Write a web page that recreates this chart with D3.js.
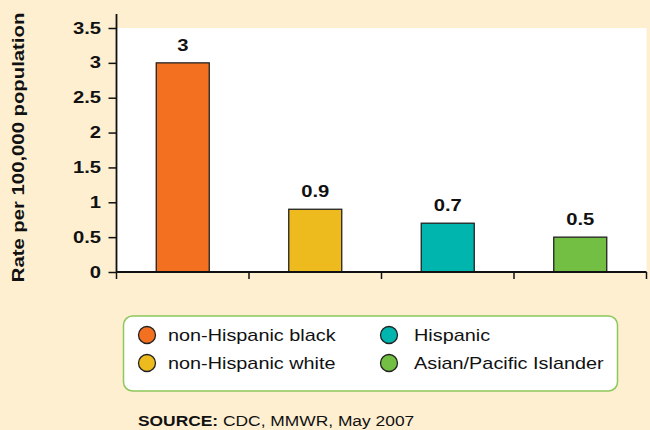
<!DOCTYPE html>
<html>
<head>
<meta charset="utf-8">
<script src="https://cdn.jsdelivr.net/npm/d3@7"></script>
<style>
  html, body { margin: 0; padding: 0; background: #FEEFD1; }
  svg { display: block; }
  text { font-family: "Liberation Sans", Arial, Helvetica, sans-serif; fill: #111; }
</style>
</head>
<body>
<svg id="chart" width="650" height="430"></svg>
<script>
// Death rates by race/ethnicity
const categories = ["non-Hispanic black", "non-Hispanic white", "Hispanic", "Asian/Pacific Islander"];
const values = [3, 0.9, 0.7, 0.5];
const valueLabels = ["3", "0.9", "0.7", "0.5"];
const colors = ["#F37021", "#EDBB1E", "#00B5AD", "#73BF44"];
const yTicks = [0, 0.5, 1, 1.5, 2, 2.5, 3, 3.5];
const yTickLabels = ["0", "0.5", "1", "1.5", "2", "2.5", "3", "3.5"];
const yTitle = "Rate per 100,000 population";

const svg = d3.select("#chart");
const plotLeft = 116.5, plotRight = 646.5, plotTop = 28, plotBottom = 272;

// the typeface is set wide: stretch glyphs horizontally
const WIDE_BOLD = 1.28, WIDE_TITLE = 1.27, WIDE_REG = 1.24, WIDE_SRC = 1.2;

function wideText(parent, x, y, str, size, weight, sx, anchor) {
  return parent.append("text")
    .attr("transform", `translate(${x},${y}) scale(${sx},1)`)
    .attr("text-anchor", anchor || "start")
    .style("font-size", size + "px").style("font-weight", weight || "normal")
    .text(str);
}

const x = d3.scaleBand().domain(categories).range([plotLeft, plotRight]).paddingInner(0.6).paddingOuter(0.3);
const y = d3.scaleLinear().domain([0, 3.5]).range([plotBottom, plotTop]);

// plot area
svg.append("rect").attr("x", plotLeft).attr("y", plotTop)
  .attr("width", plotRight - plotLeft).attr("height", plotBottom - plotTop).attr("fill", "#fff");

// bars
svg.selectAll("rect.bar").data(values).enter().append("rect")
  .attr("class", "bar")
  .attr("x", (d, i) => x(categories[i]))
  .attr("y", d => y(d))
  .attr("width", x.bandwidth())
  .attr("height", d => y(0) - y(d))
  .attr("fill", (d, i) => colors[i])
  .attr("stroke", "#222").attr("stroke-width", 1.3);

// value labels
values.forEach((v, i) => {
  wideText(svg, x(categories[i]) + x.bandwidth() / 2, y(v) - 12, valueLabels[i], 15.8, "bold", WIDE_BOLD, "middle");
});

// y axis
const labelGap = 15.5;
const yAxis = d3.axisLeft(y).tickValues(yTicks)
  .tickFormat((d, i) => yTickLabels[i]).tickSize(8).tickPadding(7);
const gy = svg.append("g").attr("transform", `translate(${plotLeft},0)`).call(yAxis);
gy.select(".domain").remove();
gy.selectAll(".tick line").attr("stroke", "#111").attr("stroke-width", 1.5);
gy.selectAll(".tick text")
  .attr("x", -labelGap / WIDE_BOLD)
  .attr("transform", `scale(${WIDE_BOLD},1)`)
  .style("font-size", "15.8px").style("font-weight", "bold")
  .style("font-family", "Liberation Sans, Arial, sans-serif").attr("fill", "#111");
svg.append("line").attr("x1", plotLeft).attr("x2", plotLeft).attr("y1", 14).attr("y2", plotBottom + 0.5)
  .attr("stroke", "#111").attr("stroke-width", 1.8);

// x axis: ticks at band boundaries
const xBounds = d3.range(categories.length + 1).map(i => plotLeft + i * (plotRight - plotLeft) / categories.length);
svg.append("line").attr("x1", plotLeft).attr("x2", plotRight).attr("y1", plotBottom).attr("y2", plotBottom)
  .attr("stroke", "#111").attr("stroke-width", 1.8);
svg.selectAll("line.xt").data(xBounds).enter().append("line")
  .attr("class", "xt")
  .attr("x1", d => d).attr("x2", d => d)
  .attr("y1", plotBottom).attr("y2", plotBottom + 7)
  .attr("stroke", "#111").attr("stroke-width", 1.5);

// y axis title
svg.append("text")
  .attr("transform", `translate(23.5,${(12 + 283) / 2}) rotate(-90) scale(${WIDE_TITLE},1)`)
  .attr("text-anchor", "middle")
  .style("font-size", "16px").style("font-weight", "bold")
  .text(yTitle);

// legend
const lg = svg.append("g");
lg.append("rect").attr("x", 123.5).attr("y", 316).attr("width", 494).attr("height", 75)
  .attr("rx", 9).attr("fill", "#fff").attr("stroke", "#8CC85A").attr("stroke-width", 1.5);
const legendPos = [[147, 335], [147, 363], [389, 335], [389, 363]];
categories.forEach((name, i) => {
  const [cx, cy] = legendPos[i];
  lg.append("circle").attr("cx", cx).attr("cy", cy).attr("r", 8.5)
    .attr("fill", colors[i]).attr("stroke", "#222").attr("stroke-width", 1.3);
  wideText(lg, cx + 21 + (i >= 2 ? 4 : 0), cy + 6, name, 16, "normal", WIDE_REG);
});

// source note
const src = svg.append("text")
  .attr("transform", `translate(138,426) scale(${WIDE_SRC},1)`)
  .style("font-size", "14.5px");
src.append("tspan").style("font-weight", "bold").text("SOURCE:");
src.append("tspan").text(" CDC, MMWR, May 2007");
</script>
</body>
</html>
